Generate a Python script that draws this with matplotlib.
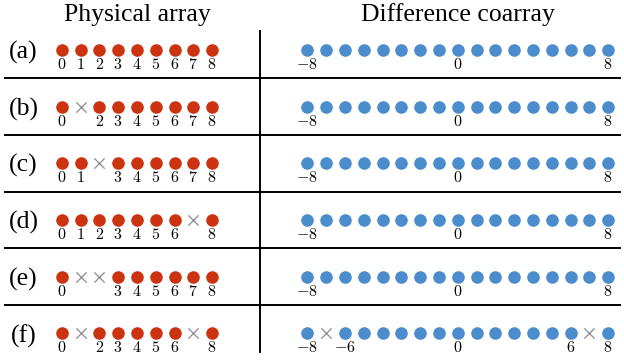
import matplotlib.pyplot as plt

plt.rcParams['mathtext.fontset'] = 'cm'

# sensor positions of each physical array, (a)-(f)
row_names = ['(a)', '(b)', '(c)', '(d)', '(e)', '(f)']
physical = [
    [0, 1, 2, 3, 4, 5, 6, 7, 8],
    [0, 2, 3, 4, 5, 6, 7, 8],
    [0, 1, 3, 4, 5, 6, 7, 8],
    [0, 1, 2, 3, 4, 5, 6, 8],
    [0, 3, 4, 5, 6, 7, 8],
    [0, 2, 3, 4, 5, 6, 8],
]
aperture = [0, 1, 2, 3, 4, 5, 6, 7, 8]

# difference coarray of each array and the lags that are missing
coarray_holes = [[], [], [], [], [], [-7, 7]]
lags = [-8, -7, -6, -5, -4, -3, -2, -1, 0, 1, 2, 3, 4, 5, 6, 7, 8]
coarray_ticks = [
    [-8, 0, 8],
    [-8, 0, 8],
    [-8, 0, 8],
    [-8, 0, 8],
    [-8, 0, 8],
    [-8, -6, 0, 6, 8],
]

RED = '#cc3311'
BLUE = '#4a8ccc'
GREY = '#8c8c8c'

W, H = 624, 360
fig = plt.figure(figsize=(W / 100, H / 100), dpi=100)
base = fig.add_axes([0, 0, 1, 1])
base.set_xlim(0, W)
base.set_ylim(H, 0)
base.axis('off')

step = 18.8
row0, row_h = 50, 56.67
phys_x0 = 61.7
co_x0 = 307.3 + 8 * step


def panel(left_px, xlo, xhi, yc):
    # axes whose x unit equals one grid step, centred vertically on the row
    x_left = left_px + xlo * step
    w = (xhi - xlo) * step
    ax = fig.add_axes([x_left / W, 1 - (yc + row_h / 2) / H, w / W, row_h / H])
    ax.set_xlim(xlo, xhi)
    ax.set_ylim(-1, 1)
    ax.axis('off')
    return ax


def draw_row(ax, present, missing, ticks, color):
    ax.scatter(present, [0] * len(present), s=82, color=color, linewidths=0, zorder=3)
    if missing:
        ax.scatter(missing, [0] * len(missing), s=55, marker='x', color=GREY, linewidths=0.9)
    for t in ticks:
        lbl = '$%d$' % t if t >= 0 else '$-%d$' % (-t)
        ax.annotate(lbl, (t, 0), xytext=(0, -14.5), textcoords='offset pixels',
                    ha='center', va='center', fontsize=11.5)


for k, name in enumerate(row_names):
    yc = row0 + k * row_h
    base.text(23.5, yc + 2.5, name, ha='center', va='center', fontsize=18.5,
              family='Liberation Serif')

    ax = panel(phys_x0, -1.2, 9.2, yc)
    holes = [p for p in aperture if p not in physical[k]]
    draw_row(ax, physical[k], holes, physical[k], RED)

    ax = panel(co_x0, -9.2, 8.9, yc)
    present = [l for l in lags if l not in coarray_holes[k]]
    draw_row(ax, present, coarray_holes[k], coarray_ticks[k], BLUE)

    if k < len(row_names) - 1:
        base.plot([5, 620], [yc + 28.3, yc + 28.3], color='black', lw=1.4)

base.plot([260, 260], [31, 352], color='black', lw=1.4)

base.text(137, 15, 'Physical array', ha='center', va='center', fontsize=18.5,
          family='Liberation Serif')
base.text(458, 15, 'Difference coarray', ha='center', va='center', fontsize=18.5,
          family='Liberation Serif')

fig.savefig('out.png', dpi=100)
